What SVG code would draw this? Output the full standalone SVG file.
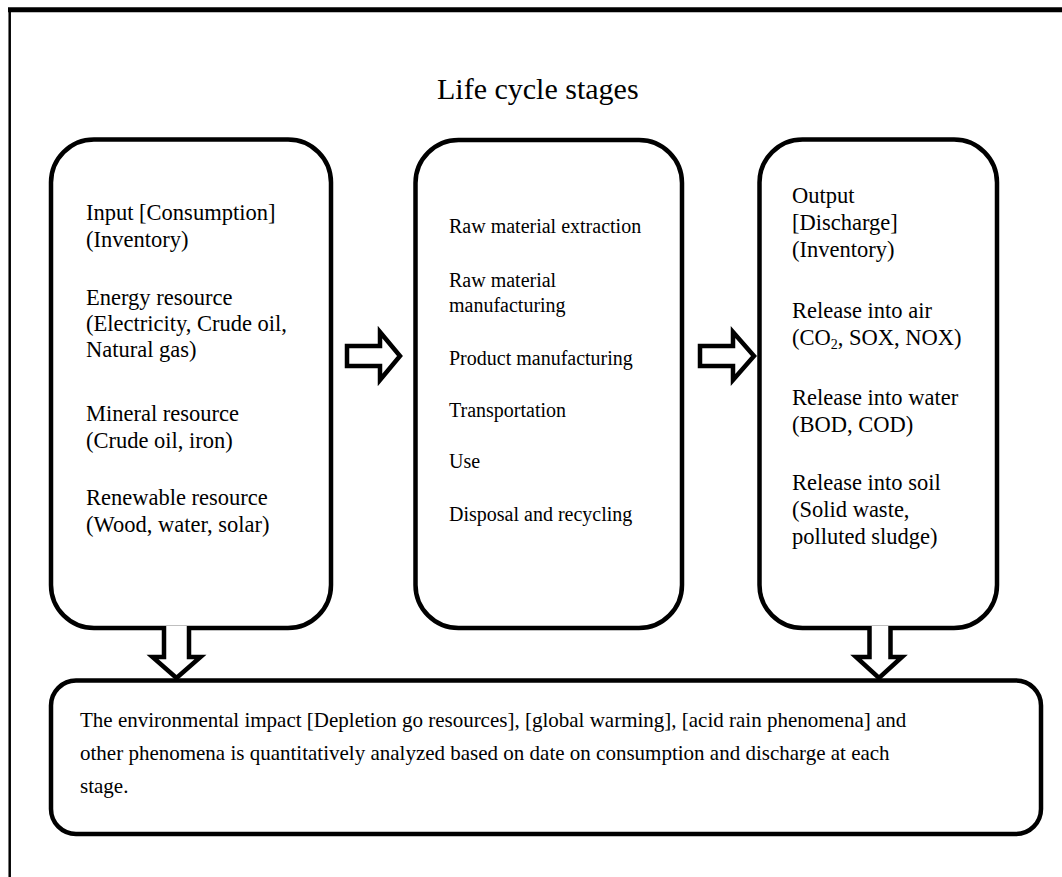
<svg xmlns="http://www.w3.org/2000/svg" width="1062" height="877" viewBox="0 0 1062 877">
  <defs>
    <style>
      .box { fill: #ffffff; stroke: #000000; stroke-width: 4.5; }
      .arrow { fill: #ffffff; stroke: #000000; stroke-width: 4.5; stroke-linejoin: miter; }
      .frame { stroke: #000000; fill: none; }
      .serif { font-family: "Liberation Serif", "Times New Roman", serif; fill: #000000; }
      .t22 { font-size: 22.5px; }
      .t20 { font-size: 20px; }
      .t21 { font-size: 21px; }
      .title { font-size: 30px; }
    </style>
  </defs>
  <rect x="0" y="0" width="1062" height="877" fill="#ffffff"/>

  <!-- page frame (top and left edges) -->
  <line class="frame" x1="8" y1="9.8" x2="1062" y2="9.8" stroke-width="5"/>
  <line class="frame" x1="9.7" y1="8" x2="9.7" y2="877" stroke-width="2.5"/>

  <text class="serif title" font-family="Liberation Serif, serif" x="437" y="99">Life cycle stages</text>

  <!-- Input inventory -->
  <g id="input" class="serif" font-family="Liberation Serif, serif">
    <rect class="box" x="51" y="139.5" width="280" height="488.5" rx="43" ry="43"/>
    <text class="t22" x="86" y="220">Input [Consumption]</text>
    <text class="t22" x="86" y="247">(Inventory)</text>
    <text class="t22" x="86" y="305">Energy resource</text>
    <text class="t22" x="86" y="331">(Electricity, Crude oil,</text>
    <text class="t22" x="86" y="357">Natural gas)</text>
    <text class="t22" x="86" y="421">Mineral resource</text>
    <text class="t22" x="86" y="448">(Crude oil, iron)</text>
    <text class="t22" x="86" y="505">Renewable resource</text>
    <text class="t22" x="86" y="532">(Wood, water, solar)</text>
  </g>

  <!-- Life cycle stages -->
  <g id="stages" class="serif" font-family="Liberation Serif, serif">
    <rect class="box" x="415.5" y="140" width="266.5" height="488" rx="43" ry="43"/>
    <text class="t20" x="449" y="233">Raw material extraction</text>
    <text class="t20" x="449" y="287">Raw material</text>
    <text class="t20" x="449" y="312">manufacturing</text>
    <text class="t20" x="449" y="365">Product manufacturing</text>
    <text class="t20" x="449" y="417">Transportation</text>
    <text class="t20" x="449" y="468">Use</text>
    <text class="t20" x="449" y="521">Disposal and recycling</text>
  </g>

  <!-- Output inventory -->
  <g id="output" class="serif" font-family="Liberation Serif, serif">
    <rect class="box" x="759.5" y="139.5" width="237.5" height="488.5" rx="43" ry="43"/>
    <text class="t22" x="792" y="203">Output</text>
    <text class="t22" x="792" y="230">[Discharge]</text>
    <text class="t22" x="792" y="257">(Inventory)</text>
    <text class="t22" x="792" y="318">Release into air</text>
    <text class="t22" x="792" y="345">(CO<tspan font-size="14" dy="4">2</tspan><tspan dy="-4">, SOX, NOX)</tspan></text>
    <text class="t22" x="792" y="405">Release into water</text>
    <text class="t22" x="792" y="432">(BOD, COD)</text>
    <text class="t22" x="792" y="490">Release into soil</text>
    <text class="t22" x="792" y="517">(Solid waste,</text>
    <text class="t22" x="792" y="544">polluted sludge)</text>
  </g>

  <!-- Impact assessment -->
  <g id="impact" class="serif" font-family="Liberation Serif, serif">
    <rect class="box" x="51" y="680.5" width="990" height="153.5" rx="25" ry="25"/>
    <text class="t21" x="80" y="727">The environmental impact [Depletion go resources], [global warming], [acid rain phenomena] and</text>
    <text class="t21" x="80" y="760">other phenomena is quantitatively analyzed based on date on consumption and discharge at each</text>
    <text class="t21" x="80" y="793">stage.</text>
  </g>

  <!-- block arrows -->
  <g id="connectors">
    <path class="arrow" d="M347,346 L380,346 L380,332 L400,356 L380,380 L380,366 L347,366 Z"/>
    <path class="arrow" d="M700,346 L733,346 L733,332 L754,356 L733,380 L733,366 L700,366 Z"/>
    <path class="arrow" d="M164,626 L164,657 L152.5,657 L176.5,678 L200.5,657 L189,657 L189,626"/>
    <path class="arrow" d="M869.5,626 L869.5,657 L856,657 L879,678 L902,657 L890.5,657 L890.5,626"/>
  </g>
</svg>
